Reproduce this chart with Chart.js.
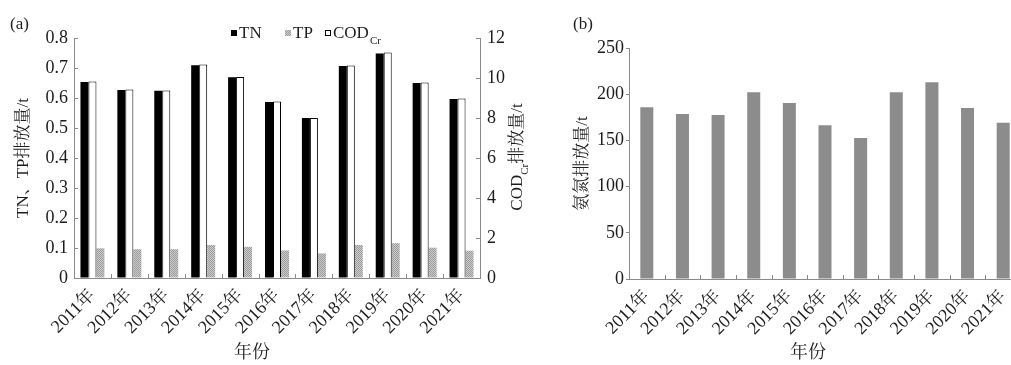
<!DOCTYPE html>
<html><head><meta charset="utf-8">
<script src="https://cdn.jsdelivr.net/npm/chart.js@4.4.1/dist/chart.umd.min.js"></script>
<style>
html,body{margin:0;padding:0;width:1011px;height:365px;overflow:hidden;background:#fff}
#ca{position:absolute;left:0;top:0}
#cb{position:absolute;left:545px;top:0}
</style></head><body>
<canvas id="ca" width="545" height="365"></canvas>
<canvas id="cb" width="490" height="365"></canvas>
<script>
// ---- data ----
const years = ['2011年','2012年','2013年','2014年','2015年','2016年','2017年','2018年','2019年','2020年','2021年'];
const tnValues  = [0.653, 0.627, 0.624, 0.709, 0.669, 0.587, 0.533, 0.707, 0.748, 0.650, 0.597];
const tpValues  = [0.099, 0.096, 0.096, 0.110, 0.104, 0.092, 0.082, 0.110, 0.116, 0.101, 0.091];
const codValues = [9.82, 9.43, 9.38, 10.68, 10.05, 8.82, 8.00, 10.62, 11.28, 9.78, 8.97];
const nh3Values = [186, 178.5, 177.5, 202, 190.5, 166.5, 152.5, 202, 213, 185, 169];
const tnTpTicks = [0, 0.1, 0.2, 0.3, 0.4, 0.5, 0.6, 0.7, 0.8];
const codTicks  = [0, 2, 4, 6, 8, 10, 12];
const nh3Ticks  = [0, 50, 100, 150, 200, 250];

const FONT = "'Liberation Serif','Times New Roman','Noto Serif CJK SC','Noto Sans CJK SC',serif";
const TXT = '#1c1c1c';
const AX = '#8a8a8a';

function makePattern() {
  const c = document.createElement('canvas'); c.width = 2; c.height = 2;
  const g = c.getContext('2d');
  g.fillStyle = '#cdcdcd'; g.fillRect(0, 0, 2, 2);
  g.fillStyle = '#9a9a9a'; g.fillRect(0, 0, 1, 1); g.fillRect(1, 1, 1, 1);
  return g.createPattern(c, 'repeat');
}
const tpFill = makePattern();

function setTicks(arr) { return function (scale) { scale.ticks = arr.map(v => ({ value: v })); }; }
function fixW(w) { return function (s) { s.width = w; }; }
function fixH(h) { return function (s) { s.height = h; }; }

function drawXInwardTicks(chart) {
  const ctx = chart.ctx, xs = chart.scales.x, n = chart.data.labels.length;
  ctx.save(); ctx.strokeStyle = AX; ctx.lineWidth = 1;
  for (let i = 1; i < n; i++) {
    const px = Math.round(xs.left + i * xs.width / n) + 0.5;
    ctx.beginPath(); ctx.moveTo(px, xs.top); ctx.lineTo(px, xs.top - 4); ctx.stroke();
  }
  ctx.restore();
}

const Chart1Decor = {
  id: 'decorA',
  afterDraw(chart) {
    const ctx = chart.ctx, ca = chart.chartArea;
    drawXInwardTicks(chart);
    // inward ticks on both y axes
    ctx.save(); ctx.strokeStyle = AX; ctx.lineWidth = 1;
    const y = chart.scales.y, y1 = chart.scales.y1;
    tnTpTicks.forEach(v => { const py = Math.round(y.getPixelForValue(v)) + 0.5;
      ctx.beginPath(); ctx.moveTo(ca.left, py); ctx.lineTo(ca.left + 4, py); ctx.stroke(); });
    codTicks.forEach(v => { const py = Math.round(y1.getPixelForValue(v)) + 0.5;
      ctx.beginPath(); ctx.moveTo(ca.right, py); ctx.lineTo(ca.right - 4, py); ctx.stroke(); });
    ctx.restore();

    ctx.save();
    ctx.fillStyle = TXT; ctx.textBaseline = 'middle';
    // panel label
    ctx.font = '17px ' + FONT; ctx.textAlign = 'left';
    ctx.fillText('(a)', 10, 25);
    // x title
    ctx.textAlign = 'center';
    ctx.font = '18px ' + FONT;
    ctx.fillText('年份', (ca.left + ca.right) / 2 - 25, 353);

    // right axis title (COD_Cr排放量/t), bottom to top
    ctx.translate(518, 157); ctx.rotate(-Math.PI / 2);
    ctx.textAlign = 'left';
    const fMain = '17px ' + FONT, fSub = '11px ' + FONT;
    ctx.font = fMain; const w1 = ctx.measureText('COD').width; const w3 = ctx.measureText('排放量/t').width;
    ctx.font = fSub; const w2 = ctx.measureText('Cr').width;
    let x0 = -(w1 + w2 + w3) / 2;
    ctx.font = fMain; ctx.fillText('COD', x0, 0);
    ctx.font = fSub; ctx.fillText('Cr', x0 + w1, 7);
    ctx.font = fMain; ctx.fillText('排放量/t', x0 + w1 + w2, 0);
    ctx.restore();

    // legend (order TN, TP, COD)
    const ds = chart.data.datasets;
    const items = [
      { d: ds[0], mx: 231, tx: 239 },
      { d: ds[2], mx: 285, tx: 293 },
      { d: ds[1], mx: 325, tx: 333, sub: 'Cr' }
    ];
    ctx.save();
    ctx.textBaseline = 'middle'; ctx.textAlign = 'left';
    items.forEach(it => {
      ctx.fillStyle = it.d.backgroundColor;
      ctx.fillRect(it.mx, 30, 6, 6);
      if (it.d.borderWidth) { ctx.strokeStyle = it.d.borderColor; ctx.lineWidth = 1; ctx.strokeRect(it.mx + 0.5, 30.5, 5, 5); }
      ctx.fillStyle = TXT; ctx.font = '17px ' + FONT;
      ctx.fillText(it.d.label, it.tx, 34);
      if (it.sub) {
        const w = ctx.measureText(it.d.label).width;
        ctx.font = '11px ' + FONT; ctx.fillText(it.sub, it.tx + w + 1, 41);
      }
    });
    ctx.restore();
  }
};

const Chart2Decor = {
  id: 'decorB',
  afterDraw(chart) {
    const ctx = chart.ctx, ca = chart.chartArea;
    drawXInwardTicks(chart);
    ctx.save();
    ctx.fillStyle = TXT; ctx.textBaseline = 'middle';
    ctx.font = '17px ' + FONT; ctx.textAlign = 'left';
    ctx.fillText('(b)', 28, 25);
    ctx.textAlign = 'center'; ctx.font = '18px ' + FONT;
    ctx.fillText('年份', 263, 353);
    ctx.restore();
  }
};

const xTickFont = { family: FONT, size: 18 };
const yTickFont = { family: FONT, size: 18 };

new Chart(document.getElementById('ca'), {
  type: 'bar',
  data: {
    labels: years,
    datasets: [
      { label: 'TN', data: tnValues, yAxisID: 'y', backgroundColor: '#000000', borderWidth: 0 },
      { label: 'COD', data: codValues, yAxisID: 'y1', backgroundColor: '#ffffff', borderColor: '#000000', borderWidth: 1 },
      { label: 'TP', data: tpValues, yAxisID: 'y', backgroundColor: tpFill, borderWidth: 0 }
    ]
  },
  options: {
    responsive: false, animation: false, devicePixelRatio: 1,
    layout: { padding: { top: 38, left: 0, right: 0, bottom: 0 } },
    datasets: { bar: { categoryPercentage: 0.65, barPercentage: 1.0 } },
    plugins: { legend: { display: false }, tooltip: { enabled: false } },
    scales: {
      x: {
        afterFit: fixH(87),
        grid: { display: true, drawOnChartArea: false, drawTicks: false },
        border: { color: AX },
        ticks: { autoSkip: false, minRotation: 45, maxRotation: 45, padding: 7, color: TXT, font: xTickFont }
      },
      y: {
        position: 'left', min: 0, max: 0.8,
        afterBuildTicks: setTicks(tnTpTicks), afterFit: fixW(74),
        grid: { display: true, drawOnChartArea: false, drawTicks: false },
        border: { color: AX },
        ticks: { padding: 6, color: TXT, font: yTickFont },
        title: { display: true, text: 'TN、TP排放量/t', color: TXT, font: { family: FONT, size: 17 }, padding: { top: 13, bottom: 0 } }
      },
      y1: {
        position: 'right', min: 0, max: 12,
        afterBuildTicks: setTicks(codTicks), afterFit: fixW(65),
        grid: { display: true, drawOnChartArea: false, drawTicks: false },
        border: { color: AX },
        ticks: { padding: 7, color: TXT, font: yTickFont }
      }
    }
  },
  plugins: [Chart1Decor]
});

new Chart(document.getElementById('cb'), {
  type: 'bar',
  data: {
    labels: years,
    datasets: [
      { label: '氨氮', data: nh3Values, backgroundColor: '#8c8c8c', borderWidth: 0 }
    ]
  },
  options: {
    responsive: false, animation: false, devicePixelRatio: 1,
    layout: { padding: { top: 48, left: 0, right: 14, bottom: 0 } },
    datasets: { bar: { categoryPercentage: 1.0, barPercentage: 0.365 } },
    plugins: { legend: { display: false }, tooltip: { enabled: false } },
    scales: {
      x: {
        afterFit: fixH(86),
        grid: { display: true, drawOnChartArea: false, drawTicks: false },
        border: { color: AX },
        ticks: { autoSkip: false, minRotation: 45, maxRotation: 45, padding: 7, color: TXT, font: xTickFont }
      },
      y: {
        position: 'left', min: 0, max: 250,
        afterBuildTicks: setTicks(nh3Ticks), afterFit: fixW(84),
        grid: { display: true, drawOnChartArea: false, drawTicks: true, tickLength: 3, color: AX },
        border: { color: AX },
        ticks: { padding: 2, color: TXT, font: yTickFont },
        title: { display: true, text: '氨氮排放量/t', color: TXT, font: { family: FONT, size: 17 }, padding: { top: 27, bottom: 0 } }
      }
    }
  },
  plugins: [Chart2Decor]
});
</script>
</body></html>
